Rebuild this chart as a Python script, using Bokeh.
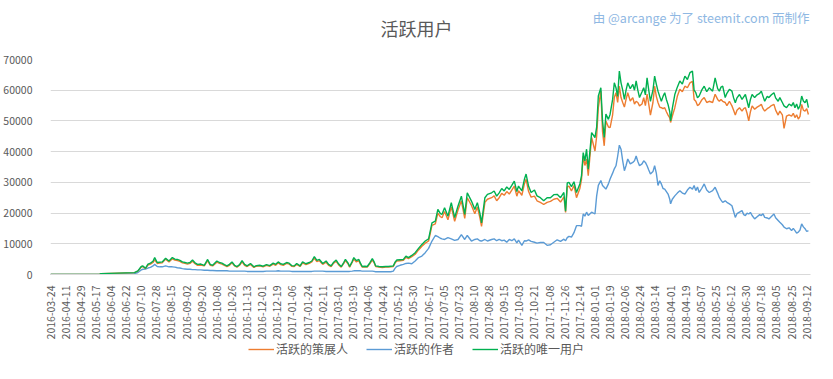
import math
from bokeh.plotting import figure
from bokeh.layouts import column
from bokeh.models import Range1d, FixedTicker, Legend, LegendItem, Label
from bokeh.embed import file_html
from bokeh.resources import INLINE

# x labels (every 18th day on the category axis)
tick_labels = [
    "2016-03-24", "2016-04-11", "2016-04-29", "2016-05-17", "2016-06-04", "2016-06-22",
    "2016-07-10", "2016-07-28", "2016-08-15", "2016-09-02", "2016-09-20", "2016-10-08",
    "2016-10-26", "2016-11-13", "2016-12-01", "2016-12-19", "2017-01-06", "2017-01-24",
    "2017-02-11", "2017-03-01", "2017-03-19", "2017-04-06", "2017-04-24", "2017-05-12",
    "2017-05-30", "2017-06-17", "2017-07-05", "2017-07-23", "2017-08-10", "2017-08-28",
    "2017-09-15", "2017-10-03", "2017-10-21", "2017-11-08", "2017-11-26", "2017-12-14",
    "2018-01-01", "2018-01-19", "2018-02-06", "2018-02-24", "2018-03-14", "2018-04-01",
    "2018-04-19", "2018-05-07", "2018-05-25", "2018-06-12", "2018-06-30", "2018-07-18",
    "2018-08-05", "2018-08-25", "2018-09-12",
]

# day index since 2016-03-24 (category position)
day = [
    0, 58, 60, 100, 104, 108, 110, 113, 116, 119, 122, 124, 127, 130, 133, 137, 141, 145, 148, 151,
    154, 157, 160, 163, 166, 169, 172, 175, 179, 183, 187, 190, 193, 198, 201, 204, 207, 210, 213, 216,
    219, 222, 225, 228, 231, 234, 238, 242, 245, 249, 253, 257, 261, 265, 268, 271, 274, 277, 281, 284,
    287, 290, 293, 297, 300, 304, 308, 311, 314, 317, 320, 324, 328, 331, 334, 337, 340, 343, 346, 349,
    351, 354, 356, 359, 361, 364, 367, 369, 371, 374, 377, 380, 383, 385, 387, 391, 395, 399, 402, 405,
    408, 410, 412, 416, 420, 423, 426, 430, 434, 438, 442, 446, 450, 454, 458, 461, 464, 466, 469, 473,
    477, 481, 485, 489, 493, 496, 501, 505, 508, 511, 513, 517, 520, 525, 528, 531, 534, 537, 540, 543,
    546, 549, 552, 555, 557, 561, 564, 566, 569, 572, 576, 579, 583, 587, 591, 595, 599, 603, 607, 611,
    613, 615, 617, 620, 623, 626, 630, 632, 634, 636, 638, 640, 644, 648, 650, 652, 655, 657, 659, 661,
    664, 666, 669, 671, 673, 675, 677, 679, 681, 683, 685, 687, 690, 693, 695, 697, 699, 701, 704, 706,
    708, 710, 712, 714, 717, 719, 721, 723, 725, 727, 729, 731, 733, 735, 737, 738, 740, 743, 746, 749,
    752, 755, 758, 761, 764, 766, 768, 770, 772, 775, 778, 781, 784, 788, 791, 794, 796, 798, 800, 803,
    805, 808, 811, 813, 815, 817, 820, 823, 825, 827, 829, 831, 833, 835, 838, 841, 844, 846, 848, 850,
    853, 855, 858, 861, 863, 866, 868, 871, 873, 876, 879, 882, 884, 886, 888, 890, 892, 894, 896, 898,
    900, 902,
]

# 活跃的唯一用户 (green)
unique_users = [
    0, 0, 300, 600, 1200, 2600, 2800, 2000, 3400, 3700, 4300, 5500, 3900, 4000, 4100, 5300, 4400, 5500, 5000, 4900,
    4600, 4100, 3900, 3700, 3900, 4700, 3800, 3300, 3400, 3000, 4900, 3300, 3000, 4400, 3900, 3700, 3200, 2800, 3300, 4100,
    3000, 2600, 3200, 4500, 3300, 2800, 3600, 2500, 2900, 3000, 2700, 3200, 2900, 3700, 3300, 4100, 3500, 3300, 3900, 3700,
    2900, 2800, 3600, 2800, 4100, 3500, 3900, 4400, 5800, 4600, 4900, 3600, 4400, 3300, 2800, 4000, 4700, 3400, 2600, 3900,
    4900, 3800, 2600, 4200, 5500, 4500, 4900, 3600, 2600, 2700, 2600, 3800, 5200, 4200, 2800, 2600, 2500, 2600, 2600, 2700,
    2800, 4000, 4700, 4800, 4900, 6000, 5500, 6200, 7100, 8500, 9800, 10900, 11600, 16800, 17400, 21200, 19800, 19600, 21700, 19000,
    23400, 18500, 22300, 25500, 19600, 26600, 23900, 21200, 23400, 20000, 16800, 25000, 26100, 26600, 27200, 25500, 26600, 28000, 27200, 28500,
    27700, 29000, 30400, 27000, 28800, 27200, 31000, 32700, 28700, 26700, 27500, 25600, 25000, 24000, 25000, 25000, 26000, 26100, 25000, 26700,
    20600, 29800, 30000, 28600, 30200, 26700, 29500, 32200, 39700, 37000, 40800, 34300, 46200, 44600, 48000, 58100, 60800, 50000, 44600, 52200,
    50500, 52200, 57000, 62400, 60800, 58000, 66200, 62400, 60000, 57000, 60000, 62400, 60500, 61900, 60000, 63000, 60000, 57600, 59500, 60800,
    58500, 64000, 60000, 56400, 60000, 64600, 62000, 59700, 58000, 56400, 58000, 59200, 57000, 55300, 53000, 50000, 54000, 58600, 61000, 63000,
    62000, 64600, 63500, 65700, 66200, 60000, 59200, 57500, 58100, 60000, 61300, 59500, 60800, 59700, 64000, 60500, 59700, 61000, 61300, 57600,
    59000, 60300, 59700, 57500, 55900, 57500, 58600, 57000, 57800, 58600, 56500, 54300, 57000, 58600, 57600, 58500, 59000, 59700, 58000, 56400,
    58000, 57600, 58500, 59200, 57500, 56400, 57600, 56000, 54900, 54300, 55500, 54900, 56000, 54300, 55500, 53800, 55000, 58100, 56500, 55900,
    57000, 54300,
]

# 活跃的策展人 (orange)
curators = [
    0, 0, 300, 600, 1100, 2400, 2600, 1900, 3100, 3400, 3900, 4800, 3600, 3700, 3800, 5000, 4100, 5100, 4700, 4500,
    4300, 3800, 3600, 3400, 3600, 4300, 3500, 3000, 3100, 2800, 4500, 3000, 2800, 4000, 3600, 3400, 3000, 2600, 3000, 3800,
    2800, 2400, 3000, 4100, 3000, 2600, 3300, 2300, 2700, 2800, 2500, 3000, 2700, 3400, 3000, 3800, 3200, 3000, 3600, 3400,
    2700, 2600, 3300, 2600, 3800, 3200, 3600, 4100, 5300, 4200, 4500, 3300, 4000, 3000, 2600, 3700, 4300, 3100, 2400, 3600,
    4500, 3500, 2400, 3900, 5000, 4100, 4500, 3300, 2400, 2500, 2400, 3500, 4700, 3900, 2600, 2400, 2300, 2400, 2400, 2500,
    2600, 3700, 4400, 4500, 4600, 5600, 5200, 5800, 6600, 8000, 9200, 10200, 10900, 16000, 16500, 20000, 18800, 18500, 20500, 17800,
    22000, 17300, 21000, 24000, 18300, 25000, 22500, 19800, 22000, 18500, 15700, 23500, 24500, 25000, 25600, 24000, 25000, 26400, 25800, 27000,
    26200, 27500, 28800, 25500, 27300, 25800, 29500, 31000, 27000, 25200, 25500, 24000, 23500, 22800, 23500, 23800, 24500, 24800, 23600, 25300,
    20200, 28500, 28800, 27200, 29000, 25000, 28000, 31000, 38600, 35500, 37600, 32200, 44600, 40200, 45000, 54300, 59700, 46500, 41900, 50000,
    48000, 47800, 52000, 57600, 59200, 56000, 61300, 57600, 56000, 54500, 57000, 59200, 56500, 57600, 55500, 56400, 56000, 54900, 55500, 57600,
    55000, 58700, 55500, 51900, 56000, 61300, 58000, 56000, 54500, 54300, 54000, 54300, 53000, 51900, 51000, 49500, 51500, 54300, 58000, 60300,
    59500, 61300, 60800, 62400, 62900, 57000, 56400, 55000, 55400, 56800, 57600, 56000, 56400, 56000, 58700, 57000, 56400, 57000, 56400, 56000,
    55000, 56400, 54900, 53500, 51900, 53500, 54300, 53200, 54000, 54300, 52500, 50000, 53000, 54900, 53800, 54500, 55000, 55400, 54000, 53200,
    54000, 54300, 55000, 55400, 53500, 51900, 53200, 52000, 47600, 51600, 52000, 51600, 52500, 51100, 52000, 50600, 51500, 55400, 53500, 53200,
    54000, 52100,
]

# 活跃的作者 (blue)
authors = [
    0, 0, 100, 300, 650, 1500, 1700, 1800, 2100, 2300, 2800, 3300, 2600, 2500, 2500, 2800, 2500, 2500, 2400, 2200,
    2100, 1900, 1800, 1700, 1700, 1600, 1600, 1500, 1500, 1400, 1400, 1300, 1300, 1200, 1200, 1200, 1200, 1200, 1100, 1100,
    1100, 1100, 1100, 1100, 1100, 1000, 1000, 1000, 1000, 1000, 1000, 1100, 1100, 1100, 1100, 1200, 1100, 1100, 1100, 1100,
    1000, 1000, 1000, 1000, 1000, 1000, 1000, 1000, 1100, 1100, 1100, 1100, 1000, 1000, 1000, 1000, 1000, 1000, 1000, 1000,
    1000, 1000, 1000, 1100, 1200, 1200, 1200, 1200, 1100, 1100, 1100, 1100, 1100, 1000, 900, 900, 900, 900, 900, 900,
    1100, 2000, 2600, 3000, 3300, 3600, 3700, 3500, 4400, 5500, 6000, 7100, 8500, 10900, 12700, 12300, 11800, 11600, 11400, 12000,
    11600, 11100, 11400, 13000, 11400, 12700, 10900, 11400, 11600, 11000, 10900, 11400, 10900, 11400, 11600, 11000, 11400, 11000, 11200, 10500,
    11400, 11000, 11600, 10300, 11200, 9500, 11000, 10900, 11300, 10800, 10500, 10200, 10400, 10400, 9500, 9700, 10500, 11300, 10800, 11500,
    11000, 12000, 12400, 12200, 13600, 15900, 15900, 15700, 19700, 19000, 20300, 19200, 20300, 19700, 25600, 29000, 30600, 29000, 28400, 27800,
    29500, 31100, 33000, 34400, 35400, 38500, 42100, 40800, 37000, 33800, 35500, 37600, 36000, 36500, 37000, 38600, 36800, 35400, 36000, 37000,
    36500, 35400, 34000, 32700, 33500, 35400, 33000, 29000, 30500, 29500, 28000, 27800, 27000, 26200, 24500, 23000, 24500, 25600, 26500, 27300,
    26500, 26200, 27500, 28400, 27800, 29000, 27300, 28500, 26700, 28000, 29500, 27500, 26700, 27300, 28400, 26500, 25100, 24200, 23500, 24000,
    23500, 23000, 22400, 20500, 18600, 19800, 20300, 20800, 19500, 19200, 20000, 19700, 20200, 19200, 18100, 18800, 19500, 19200, 19800, 18600,
    18400, 18100, 18900, 19700, 18500, 17600, 17000, 16200, 15400, 14900, 15200, 14300, 15000, 14300, 13500, 13800, 14500, 16500, 15500, 14900,
    14000, 14300,
]

FONT = "Noto Sans CJK SC"
TXT = "#595959"
BLUE, ORANGE, GREEN = "#5B9BD5", "#ED7D31", "#00B050"
W = 817
LW = 1.4


def bare(fig):
    fig.outline_line_color = None
    fig.xgrid.visible = False
    fig.ygrid.visible = False


# ---- title strip (frame is aligned with the main chart frame) ----
pt = figure(width=W, height=45, output_backend="svg", toolbar_location=None,
            x_range=Range1d(44, 810), y_range=Range1d(0, 45), x_axis_type=None, y_axis_type=None,
            min_border_left=44, min_border_right=7, min_border_top=0, min_border_bottom=0)
bare(pt)
pt.add_layout(Label(x=413, y=18, text="活跃用户", text_align="center", text_baseline="middle",
                    text_font=FONT, text_font_size="18px", text_color=TXT))
pt.add_layout(Label(x=809, y=28, text="由 @arcange 为了 steemit.com 而制作", text_align="right",
                    text_baseline="middle", text_font=FONT, text_font_size="12.5px", text_color="#8FB8E3"))

# ---- main chart ----
p = figure(width=W, height=297, output_backend="svg", toolbar_location=None,
           x_range=Range1d(0, 904.5), y_range=Range1d(0, 70000),
           min_border_left=44, min_border_right=7, min_border_top=14, min_border_bottom=67)
p.outline_line_color = None

r_auth = p.line(day, authors, line_color=BLUE, line_width=LW)
r_cur = p.line(day, curators, line_color=ORANGE, line_width=LW)
r_uni = p.line(day, unique_users, line_color=GREEN, line_width=LW)

p.xaxis.ticker = FixedTicker(ticks=[i * 18 for i in range(len(tick_labels))])
p.xaxis.major_label_overrides = {i * 18: t for i, t in enumerate(tick_labels)}
p.xaxis.major_label_orientation = math.pi / 2
p.xaxis.axis_line_color = "#D9D9D9"
p.xaxis.major_tick_line_color = None
p.xaxis.minor_tick_line_color = None
p.xaxis.major_label_standoff = 5
p.xaxis.major_label_text_font = FONT
p.xaxis.major_label_text_font_size = "10.5px"
p.xaxis.major_label_text_color = TXT

p.yaxis.ticker = FixedTicker(ticks=list(range(0, 70001, 10000)))
p.yaxis.axis_line_color = None
p.yaxis.major_tick_line_color = None
p.yaxis.minor_tick_line_color = None
p.yaxis.major_label_standoff = 12
p.yaxis.major_label_text_font = FONT
p.yaxis.major_label_text_font_size = "10.5px"
p.yaxis.major_label_text_color = TXT

p.xgrid.visible = False
p.ygrid.grid_line_color = "#D9D9D9"
p.ygrid.grid_line_width = 1

# ---- legend strip (series drawn out of view; only the legend shows) ----
pl = figure(width=W, height=29, output_backend="svg", toolbar_location=None,
            x_range=Range1d(0, 904.5), y_range=Range1d(-3, -2), x_axis_type=None, y_axis_type=None,
            min_border_left=44, min_border_right=7, min_border_top=0, min_border_bottom=0)
bare(pl)
g_cur = pl.line(day, curators, line_color=ORANGE, line_width=LW)
g_auth = pl.line(day, authors, line_color=BLUE, line_width=LW)
g_uni = pl.line(day, unique_users, line_color=GREEN, line_width=LW)
legend = Legend(items=[
    LegendItem(label="活跃的策展人", renderers=[g_cur]),
    LegendItem(label="活跃的作者", renderers=[g_auth]),
    LegendItem(label="活跃的唯一用户", renderers=[g_uni]),
], orientation="horizontal", location=(198, 14), border_line_color=None,
    background_fill_alpha=0, glyph_width=26, glyph_height=12, label_standoff=2, spacing=18,
    padding=0, margin=0, label_text_font=FONT, label_text_font_size="12px", label_text_color=TXT,
    label_height=12)
pl.add_layout(legend)

layout = column(pt, p, pl, spacing=0)
open("out.html", "w").write(file_html(layout, INLINE))
